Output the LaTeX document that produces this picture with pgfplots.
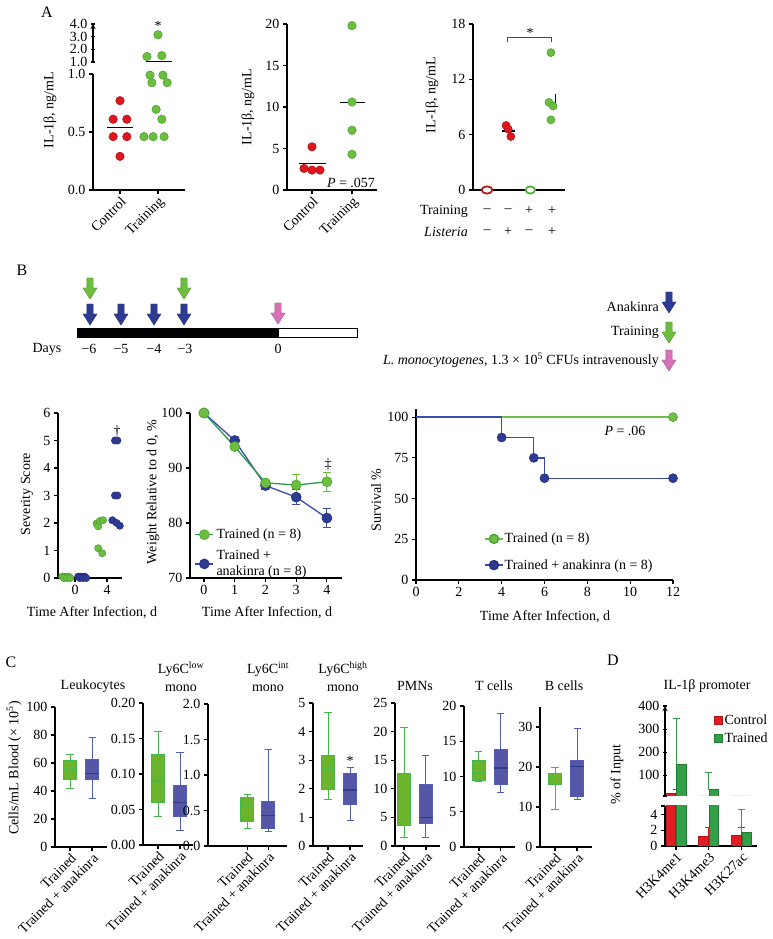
\documentclass[border=0pt]{standalone}
\usepackage{fontspec}
\setmainfont{Liberation Serif}
\usepackage{pgfplots}
\pgfplotsset{compat=1.18}
\usepgfplotslibrary{statistics}

\definecolor{rA}{HTML}{E0161E}
\definecolor{rAd}{HTML}{B5121A}
\definecolor{rO}{HTML}{B0201F}
\definecolor{gA}{HTML}{6CBE3E}
\definecolor{gAd}{HTML}{4CA332}
\definecolor{gO}{HTML}{4CB53A}
\definecolor{bB}{HTML}{2E3B92}
\definecolor{bBd}{HTML}{252F80}
\definecolor{bL}{HTML}{3B4BAA}
\definecolor{gL}{HTML}{2C9B4A}
\definecolor{gS}{HTML}{6CC04A}
\definecolor{gBox}{HTML}{6AB42E}
\definecolor{gBoxE}{HTML}{45B649}
\definecolor{gMed}{HTML}{4DB848}
\definecolor{bBox}{HTML}{5557A6}
\definecolor{bBoxE}{HTML}{5060B8}
\definecolor{bMed}{HTML}{343A8A}
\definecolor{rD}{HTML}{E31B23}
\definecolor{rDd}{HTML}{B3141A}
\definecolor{gD}{HTML}{33A047}
\definecolor{gDd}{HTML}{1E7B32}
\definecolor{pk}{HTML}{D572B8}

\newcommand\fs{\fontsize{14}{16}\selectfont}
\newcommand\lt{\fontsize{16}{18}\selectfont}
\newcommand\darr[3]{\filldraw[fill=#3, draw=#3!75!black, line width=0.4pt] (#1-3.2,#2) -- (#1+3.2,#2) -- (#1+3.2,#2+10) -- (#1+7,#2+10) -- (#1,#2+21) -- (#1-7,#2+10) -- (#1-3.2,#2+10) -- cycle;}

\pgfplotsset{
 base/.style={scale only axis, anchor=south west, axis lines=left,
  axis line style={-, line width=1.3pt, black},
  tick style={line width=1.1pt, black},
  tick align=outside, major tick length=4pt,
  tick label style={font=\fs},
  /pgf/number format/assume math mode=true,
  boxplot/draw direction=y,
  clip=false},
 catx/.style={xticklabel style={rotate=45, anchor=north east, inner sep=1pt}},
 gdot/.style={only marks, mark=*, mark size=#1, mark options={fill=gA, draw=gAd, line width=0.6pt}},
 rdot/.style={only marks, mark=*, mark size=#1, mark options={fill=rA, draw=rAd, line width=0.6pt}},
 bdot/.style={only marks, mark=*, mark size=#1, mark options={fill=bB, draw=bBd, line width=0.6pt}},
 mline/.style={black, line width=1.3pt},
 gbox/.style={draw=gBoxE, fill=gBox, line width=1pt, boxplot/every median/.style={draw=gMed, line width=1.2pt}},
 bbox/.style={draw=bBoxE, fill=bBox, line width=1pt, boxplot/every median/.style={draw=bMed, line width=1.2pt}},
}

\begin{document}
\begin{tikzpicture}
\useasboundingbox (0,0) rectangle (773pt,939pt);

% ---------------- A1 lower
\begin{axis}[base, catx, at={(93pt,749pt)}, width=92pt, height=116pt,
  xmin=0.29, xmax=2.71, ymin=0, ymax=1,
  ytick={0,0.5,1}, yticklabels={0.0,0.5,1.0},
  xtick={1,2}, xticklabels={Control,Training}]
\addplot[rdot=4.2pt] coordinates {(1,0.77) (0.82,0.61) (1.18,0.61) (0.82,0.46) (1.18,0.46) (1,0.29)};
\addplot[mline] coordinates {(0.66,0.537) (1.34,0.537)};
\addplot[gdot=4.2pt] coordinates {(1.79,0.99) (2.13,0.99) (1.84,0.925) (2.24,0.925) (1.95,0.695) (2.1,0.61) (1.63,0.46) (1.87,0.46) (2.16,0.46)};
\end{axis}
% ---------------- A1 upper
\begin{axis}[base, at={(93pt,877pt)}, width=92pt, height=38pt,
  xmin=0.29, xmax=2.71, ymin=1, ymax=4, axis x line=none, axis y line=left,
  xtick=\empty, ytick={1,2,3,4}, yticklabels={1.0,2.0,3.0,4.0}]
\addplot[gdot=4.2pt] coordinates {(2,3.15) (1.71,1.43) (2.1,1.5)};
\addplot[mline] coordinates {(1.68,1.05) (2.37,1.05)};
\end{axis}
% ---------------- A2
\begin{axis}[base, catx, at={(287pt,749pt)}, width=90pt, height=166pt,
  xmin=0.375, xmax=2.625, ymin=0, ymax=20, ytick={0,5,10,15,20},
  xtick={1,2}, xticklabels={Control,Training}]
\addplot[rdot=4.2pt] coordinates {(1,5.2) (0.8,2.6) (1,2.4) (1.2,2.4)};
\addplot[mline] coordinates {(0.67,3.2) (1.35,3.2)};
\addplot[gdot=4.2pt] coordinates {(2,19.8) (2,10.6) (2,7.2) (2,4.3)};
\addplot[mline] coordinates {(1.7,10.5) (2.33,10.5)};
\end{axis}
% ---------------- A3
\begin{axis}[base, at={(473pt,749pt)}, width=92pt, height=166pt,
  xmin=0.354, xmax=4.6, ymin=0, ymax=18, ytick={0,6,12,18}, xtick=\empty]
\addplot[only marks, mark=*, mark size=3.6pt, mark options={fill=white, draw=rO, line width=1.8pt, xscale=1.5}] coordinates {(1,0)};
\addplot[rdot=4pt] coordinates {(1.88,7.0) (1.98,6.6) (2.1,5.8)};
\addplot[mline] coordinates {(1.7,6.4) (2.3,6.4)};
\addplot[only marks, mark=*, mark size=3.6pt, mark options={fill=white, draw=gO, line width=1.8pt, xscale=1.3}] coordinates {(3,0)};
\addplot[gdot=4pt] coordinates {(3.95,14.9) (3.86,9.5) (4.05,9.1) (3.95,7.6)};
\addplot[mline] coordinates {(4.17,9.1) (4.17,10.4)};
\end{axis}

% ---------------- B1 severity
\begin{axis}[base, at={(58pt,361pt)}, width=64pt, height=165pt,
  xmin=-2.125, xmax=5.875, ymin=0, ymax=6, xtick={0,4}, ytick={0,1,2,3,4,5,6}]
\addplot[gdot=3.6pt] coordinates {(-1.6,0.05) (-1.2,0.05) (-0.8,0.05) (-1.4,0) (-1.0,0) (-0.6,0)};
\addplot[bdot=3.6pt] coordinates {(0.4,0.05) (0.8,0.05) (1.2,0.05) (0.6,0) (1.0,0) (1.4,0)};
\addplot[gdot=3.6pt] coordinates {(2.7,1.98) (2.9,1.88) (3.1,2.07) (3.5,2.1) (2.9,1.08) (3.4,0.9)};
\addplot[bdot=3.6pt] coordinates {(5.0,5) (5.3,5) (5.0,3) (5.3,3) (4.67,2.1) (5.2,2.0) (5.6,1.9)};
\end{axis}

% ---------------- B2 weight
\begin{axis}[base, at={(190pt,361pt)}, width=152pt, height=165pt,
  xmin=-0.455, xmax=4.49, ymin=70, ymax=100, xtick={0,1,2,3,4}, ytick={70,80,90,100},
  legend image code/.code={\draw[mark repeat=2, mark phase=2, #1] plot coordinates {(0pt,0pt) (9pt,0pt) (18pt,0pt)};},
  legend style={draw=none, fill=none, at={(rel axis cs:0.01,0.325)}, anchor=north west,
    font=\fs, nodes={align=left, inner sep=2.5pt}, row sep=5pt},
  legend cell align=left, reverse legend]
\addplot[bL, line width=1.3pt, mark=*, mark size=5pt, mark options={fill=bB, draw=bBd, line width=0.6pt},
  error bars/.cd, y dir=both, y explicit, error bar style={bL, line width=1pt},
  error mark options={rotate=90, mark size=4pt, bL, line width=1pt}]
  coordinates {(0,100) (1,95.0) (2,86.8) +- (0,0.7) (3,84.7) +- (0,1.3) (4,80.9) +- (0,1.8)};
\addlegendentry{Trained +\\anakinra (n = 8)}
\addplot[gL, line width=1.3pt, mark=*, mark size=5pt, mark options={fill=gA, draw=gAd, line width=0.6pt},
  error bars/.cd, y dir=both, y explicit, error bar style={gA, line width=1pt},
  error mark options={rotate=90, mark size=4pt, gA, line width=1pt}]
  coordinates {(0,100) (1,93.9) (2,87.3) +- (0,0.3) (3,86.9) +- (0,1.9) (4,87.5) +- (0,1.7)};
\addlegendentry{Trained (n = 8)}
\end{axis}

% ---------------- B3 survival
\begin{axis}[base, at={(416pt,359pt)}, width=257pt, height=171pt,
  xmin=0, xmax=12, ymin=0, ymax=105, xtick={0,2,4,6,8,10,12}, ytick={0,25,50,75,100},
  legend style={draw=none, fill=none, at={(rel axis cs:0.255,0.295)}, anchor=north west,
    font=\fs, nodes={inner sep=1.5pt}, row sep=12pt},
  legend cell align=left]
\addplot[gS, line width=1.4pt, forget plot] coordinates {(0,100) (12,100)};
\addplot[bL, line width=1.4pt, const plot, forget plot] coordinates {(0,100) (4,87.5) (5.5,75) (6,62.5) (12,62.5)};
\addplot[bdot=4.5pt, forget plot] coordinates {(4,87.5) (5.5,75) (6,62.5) (12,62.5)};
\addplot[only marks, mark=*, mark size=4.5pt, mark options={fill=gS, draw=gAd, line width=0.6pt}, forget plot] coordinates {(12,100)};
\addlegendimage{gS, line width=1.4pt, mark=*, mark size=4.5pt, mark options={fill=gS, draw=gAd}}
\addlegendentry{Trained (n = 8)}
\addlegendimage{bL, line width=1.4pt, mark=*, mark size=4.5pt, mark options={fill=bB, draw=bBd}}
\addlegendentry{Trained + anakinra (n = 8)}
\end{axis}

% ---------------- C1 Leukocytes
\begin{axis}[base, catx, at={(55pt,92pt)}, width=52pt, height=140pt,
  xmin=0.318, xmax=2.68, ymin=0, ymax=100, ytick={0,20,40,60,80,100},
  xtick={1,2}, xticklabels={Trained,Trained + anakinra}]
\addplot[gbox, boxplot prepared={draw position=1, lower whisker=41.5, lower quartile=48.2, median=56, upper quartile=62, upper whisker=66, box extend=0.62, whisker extend=0.32}] coordinates {};
\addplot[bbox, boxplot prepared={draw position=2, lower whisker=34.5, lower quartile=48.2, median=52.5, upper quartile=62.5, upper whisker=78.3, box extend=0.62, whisker extend=0.32}] coordinates {};
\end{axis}
% ---------------- C2 Ly6C low
\begin{axis}[base, catx, at={(143pt,94pt)}, width=50pt, height=142pt,
  xmin=0.318, xmax=2.59, ymin=0, ymax=0.2, ytick={0,0.05,0.1,0.15,0.2}, yticklabels={0.00,0.05,0.10,0.15,0.20},
  xtick={1,2}, xticklabels={Trained,Trained + anakinra}]
\addplot[gbox, boxplot prepared={draw position=1, lower whisker=0.040, lower quartile=0.060, median=0.090, upper quartile=0.128, upper whisker=0.160, box extend=0.62, whisker extend=0.32}] coordinates {};
\addplot[bbox, boxplot prepared={draw position=2, lower whisker=0.020, lower quartile=0.040, median=0.060, upper quartile=0.084, upper whisker=0.130, box extend=0.62, whisker extend=0.32}] coordinates {};
\end{axis}
% ---------------- C3 Ly6C int
\begin{axis}[base, catx, at={(208pt,93pt)}, width=79pt, height=142pt,
  xmin=-0.857, xmax=2.9, ymin=0, ymax=2, ytick={0,0.5,1,1.5,2}, yticklabels={0.0,0.5,1.0,1.5,2.0},
  xtick={1,2}, xticklabels={Trained,Trained + anakinra}]
\addplot[gbox, boxplot prepared={draw position=1, lower whisker=0.25, lower quartile=0.35, median=0.59, upper quartile=0.68, upper whisker=0.73, box extend=0.64, whisker extend=0.33}] coordinates {};
\addplot[bbox, boxplot prepared={draw position=2, lower whisker=0.20, lower quartile=0.25, median=0.425, upper quartile=0.626, upper whisker=1.36, box extend=0.64, whisker extend=0.33}] coordinates {};
\end{axis}
% ---------------- C4 Ly6C high
\begin{axis}[base, catx, at={(313pt,93pt)}, width=50pt, height=143pt,
  xmin=0.318, xmax=2.59, ymin=0, ymax=5, ytick={0,1,2,3,4,5},
  xtick={1,2}, xticklabels={Trained,Trained + anakinra}]
\addplot[gbox, boxplot prepared={draw position=1, lower whisker=1.61, lower quartile=1.99, median=2.72, upper quartile=3.16, upper whisker=4.68, box extend=0.62, whisker extend=0.32}] coordinates {};
\addplot[bbox, boxplot prepared={draw position=2, lower whisker=0.875, lower quartile=1.46, median=1.96, upper quartile=2.54, upper whisker=2.74, box extend=0.62, whisker extend=0.32}] coordinates {};
\end{axis}
% ---------------- C5 PMNs
\begin{axis}[base, catx, at={(395pt,93pt)}, width=45pt, height=143pt,
  xmin=0.59, xmax=2.64, ymin=0, ymax=25, ytick={0,5,10,15,20,25},
  xtick={1,2}, xticklabels={Trained,Trained + anakinra}]
\addplot[gbox, boxplot prepared={draw position=1, lower whisker=1.5, lower quartile=3.5, median=8.8, upper quartile=12.6, upper whisker=20.75, box extend=0.62, whisker extend=0.32}] coordinates {};
\addplot[bbox, boxplot prepared={draw position=2, lower whisker=1.5, lower quartile=4.0, median=5.0, upper quartile=10.7, upper whisker=15.9, box extend=0.62, whisker extend=0.32}] coordinates {};
\end{axis}
% ---------------- C6 T cells
\begin{axis}[base, catx, at={(464pt,92pt)}, width=51pt, height=141pt,
  xmin=0.318, xmax=2.64, ymin=0, ymax=20, ytick={0,5,10,15,20},
  xtick={1,2}, xticklabels={Trained,Trained + anakinra}]
\addplot[gbox, boxplot prepared={draw position=1, lower whisker=9.3, lower quartile=9.5, median=10.5, upper quartile=12.3, upper whisker=13.6, box extend=0.62, whisker extend=0.32}] coordinates {};
\addplot[bbox, boxplot prepared={draw position=2, lower whisker=7.8, lower quartile=8.9, median=11.2, upper quartile=13.9, upper whisker=19.0, box extend=0.62, whisker extend=0.32}] coordinates {};
\end{axis}
% ---------------- C7 B cells
\begin{axis}[base, catx, at={(540pt,92pt)}, width=52pt, height=140pt,
  xmin=0.318, xmax=2.68, ymin=0, ymax=35, ytick={0,10,20,30},
  xtick={1,2}, xticklabels={Trained,Trained + anakinra}]
\addplot[gbox, boxplot prepared={draw position=1, lower whisker=9.4, lower quartile=15.5, median=16.3, upper quartile=18.4, upper whisker=19.9, box extend=0.62, whisker extend=0.32}] coordinates {};
\addplot[bbox, boxplot prepared={draw position=2, lower whisker=11.9, lower quartile=12.7, median=20.1, upper quartile=21.6, upper whisker=29.5, box extend=0.62, whisker extend=0.32}] coordinates {};
\end{axis}

% ---------------- D upper
\begin{axis}[base, clip=true, at={(665pt,143pt)}, width=92pt, height=90pt,
  xmin=0.664, xmax=3.47, ymin=10, ymax=400, axis x line=none, axis y line=left,
  xtick=\empty, ytick={10,100,200,300,400}, yticklabels={,100,200,300,400},
  legend image code/.code={\draw[#1] (0pt,-4pt) rectangle (8pt,4pt);},
  legend style={draw=none, fill=none, at={(rel axis cs:0.5,0.945)}, anchor=north west,
    font=\fs, nodes={inner sep=1.5pt}, row sep=4pt},
  legend cell align=left]
\addplot[ybar, bar width=9.5pt, bar shift=-5.2pt, fill=rD, draw=rDd, line width=0.8pt,
  error bars/.cd, y dir=plus, y explicit, error bar style={rD, line width=1pt},
  error mark options={rotate=90, mark size=3.5pt, rD, line width=1pt}]
  coordinates {(1,20) +- (0,20) (2,1.25) +- (0,1.05) (3,1.3) +- (0,1.0)};
\addplot[ybar, bar width=9.5pt, bar shift=5.2pt, fill=gD, draw=gDd, line width=0.8pt,
  error bars/.cd, y dir=plus, y explicit, error bar style={gD, line width=1pt},
  error mark options={rotate=90, mark size=3.5pt, gD, line width=1pt}]
  coordinates {(1,145) +- (0,200) (2,38) +- (0,75) (3,1.75) +- (0,2.9)};
\legend{Control,Trained}
\end{axis}
% ---------------- D lower
\begin{axis}[base, catx, clip=true, at={(665pt,93pt)}, width=92pt, height=40pt,
  xmin=0.664, xmax=3.47, ymin=0, ymax=5.1, ytick={0,2,4,5.1}, yticklabels={0,2,4,},
  xtick={1,2,3}, xticklabels={H3K4me1,H3K4me3,H3K27ac}]
\addplot[ybar, bar width=9.5pt, bar shift=-5.2pt, fill=rD, draw=rDd, line width=0.8pt,
  error bars/.cd, y dir=plus, y explicit, error bar style={rD, line width=1pt},
  error mark options={rotate=90, mark size=3.5pt, rD, line width=1pt}]
  coordinates {(1,20) +- (0,20) (2,1.25) +- (0,1.05) (3,1.3) +- (0,1.0)};
\addplot[ybar, bar width=9.5pt, bar shift=5.2pt, fill=gD, draw=gDd, line width=0.8pt,
  error bars/.cd, y dir=plus, y explicit, error bar style={gD, line width=1pt},
  error mark options={rotate=90, mark size=3.5pt, gD, line width=1pt}]
  coordinates {(1,145) +- (0,200) (2,38) +- (0,75) (3,1.75) +- (0,2.9)};
\end{axis}

% ---------------- annotations in pixel coordinates
\begin{scope}[shift={(0pt,939pt)}, x=1pt, y=-1pt, every node/.style={font=\fs, inner sep=0pt}]
\node[font=\lt] at (47,12) {A};
\node[font=\lt] at (22,270) {B};
\node[font=\lt] at (11,662) {C};
\node[font=\lt] at (613,660) {D};
% A
\node[rotate=90] at (50,110) {IL-1β, ng/mL};
\node[rotate=90] at (248,107) {IL-1β, ng/mL};
\node[rotate=90] at (432,95) {IL-1β, ng/mL};
\node at (158,26) {*};
\node at (351,183) {\textit{P} = .057};
\draw[line width=0.8pt, black!70] (507,42) -- (507,37) -- (551,37) -- (551,42);
\node at (530,33) {*};
\node[anchor=east] at (468,211) {Training};
\node[anchor=east] at (468,232) {\textit{Listeria}};
\foreach \x/\s in {487/–,508/–,529/+,552/+} \node at (\x,211) {\s};
\foreach \x/\s in {487/–,508/+,529/–,552/+} \node at (\x,232) {\s};
% B timeline
\fill[black] (77,328) rectangle (278,338);
\draw[line width=0.6pt] (278,328.3) rectangle (357,337.7);
\node at (47,349) {Days};
\node at (89,349) {−6};
\node at (121,349) {−5};
\node at (154,349) {−4};
\node at (185,349) {−3};
\node at (278,349) {0};
\darr{90}{278}{gA}
\darr{184}{278}{gA}
\darr{90}{304}{bB}
\darr{121}{304}{bB}
\darr{154}{304}{bB}
\darr{184}{304}{bB}
\darr{278}{303}{pk}
\node[anchor=east] at (659,307) {Anakinra};
\darr{669}{292}{bB}
\node[anchor=east] at (659,332) {Training};
\darr{669}{322}{gA}
\node[anchor=east] at (659,360) {\textit{L. monocytogenes}, 1.3 × 10\textsuperscript{5} CFUs intravenously};
\darr{669}{350}{pk}
% B lower
\node[rotate=90] at (27,494) {Severity Score};
\node at (92,613) {Time After Infection, d};
\node at (117,431) {†};
\node[rotate=90] at (153,492) {Weight Relative to d 0, \%};
\node at (267,613) {Time After Infection, d};
\node at (328,464) {‡};
\node[rotate=90] at (376,500) {Survival \%};
\node at (545,617) {Time After Infection, d};
\node at (625,431) {\textit{P} = .06};
% C
\node[rotate=90] at (14,768) {Cells/mL Blood (× 10\textsuperscript{5})};
\node at (93,686) {Leukocytes};
\node at (181,669) {Ly6C\textsuperscript{low}};
\node at (181,688) {mono};
\node at (268,669) {Ly6C\textsuperscript{int}};
\node at (268,688) {mono};
\node at (343,669) {Ly6C\textsuperscript{high}};
\node at (343,688) {mono};
\node at (415,686) {PMNs};
\node at (494,686) {T cells};
\node at (564,686) {B cells};
\node at (350,761) {*};
% D
\node at (707,686) {IL-1β promoter};
\node[rotate=90] at (617,775) {\% of Input};
\end{scope}
\end{tikzpicture}
\end{document}
